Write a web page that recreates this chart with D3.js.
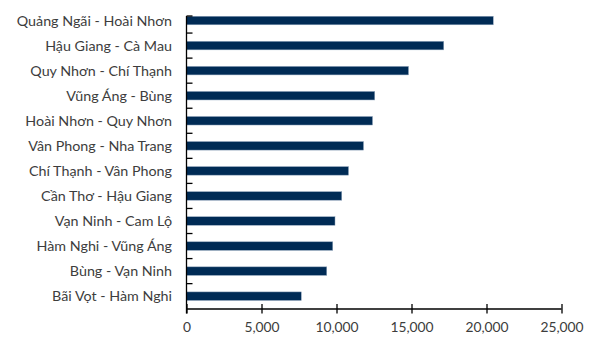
<!DOCTYPE html>
<html>
<head>
<meta charset="utf-8">
<script src="https://cdn.jsdelivr.net/npm/d3@7"></script>
<style>
  body { margin: 0; background: #fff; }
  svg text { font-family: Lato, "Open Sans", sans-serif; fill: #3d3d3d; }
</style>
</head>
<body>
<svg id="chart" width="597" height="341"></svg>
<script>
// route segments, top to bottom as drawn
var routes = ["Quảng Ngãi - Hoài Nhơn", "Hậu Giang - Cà Mau", "Quy Nhơn - Chí Thạnh",
  "Vũng Áng - Bùng", "Hoài Nhơn - Quy Nhơn", "Vân Phong - Nha Trang",
  "Chí Thạnh - Vân Phong", "Cần Thơ - Hậu Giang", "Vạn Ninh - Cam Lộ",
  "Hàm Nghi - Vũng Áng", "Bùng - Vạn Ninh", "Bãi Vọt - Hàm Nghi"];
var values = [20450, 17150, 14800, 12550, 12400, 11800, 10800, 10350, 9900, 9750, 9350, 7650];
var xTicks = [0, 5000, 10000, 15000, 20000, 25000];

var svg = d3.select("#chart");
var plotL = 186.5, plotR = 561.5, plotT = 8, plotB = 308.7, axisTop = 16;

var x = d3.scaleLinear().domain([0, 25000]).range([plotL, plotR]);
var y = d3.scaleBand().domain(routes).range([plotT, plotB])
	.paddingInner(0.66).paddingOuter(0.33);

// bars
svg.append("g").selectAll("rect")
	.data(values)
	.enter().append("rect")
	.attr("x", x(0))
	.attr("y", (d, i) => y(routes[i]))
	.attr("width", d => x(d) - x(0))
	.attr("height", y.bandwidth())
	.attr("fill", "#002b55")
	.attr("stroke", "#8fa4bb")
	.attr("stroke-width", 0.5);

// category labels
svg.append("g").selectAll("text")
	.data(routes)
	.enter().append("text")
	.attr("x", plotL - 14.5)
	.attr("y", d => y(d) + y.bandwidth() / 2)
	.attr("dy", "0.35em")
	.attr("text-anchor", "end")
	.style("font-size", "14.3px")
	.text(d => d);

// y axis: line plus ticks at band boundaries
var ax = svg.append("g").attr("stroke", "#000").attr("stroke-width", 1.3);
ax.append("line").attr("x1", plotL).attr("x2", plotL).attr("y1", axisTop).attr("y2", 313.5);
var bounds = [axisTop].concat(routes.slice(1).map(r => y(r) - y.step() * y.paddingInner() / 2));
ax.selectAll(".yt").data(bounds).enter().append("line")
	.attr("x1", plotL).attr("x2", plotL + 6)
	.attr("y1", d => d).attr("y2", d => d);

// x axis
var xa = svg.append("g").attr("transform", "translate(0,309)")
	.call(d3.axisBottom(x).tickValues(xTicks).tickSize(4.5).tickPadding(9)
		.tickFormat(d3.format(",")));
xa.select(".domain").attr("d", "M" + plotL + ",0H" + plotR).attr("stroke-width", 1.3);
xa.selectAll(".tick line").attr("y1", -5).attr("y2", 4.5).attr("stroke-width", 1.3);
xa.selectAll(".tick text").style("font-size", "13.8px").style("font-family", "Lato, sans-serif")
	.attr("fill", "#3d3d3d");
</script>
</body>
</html>
